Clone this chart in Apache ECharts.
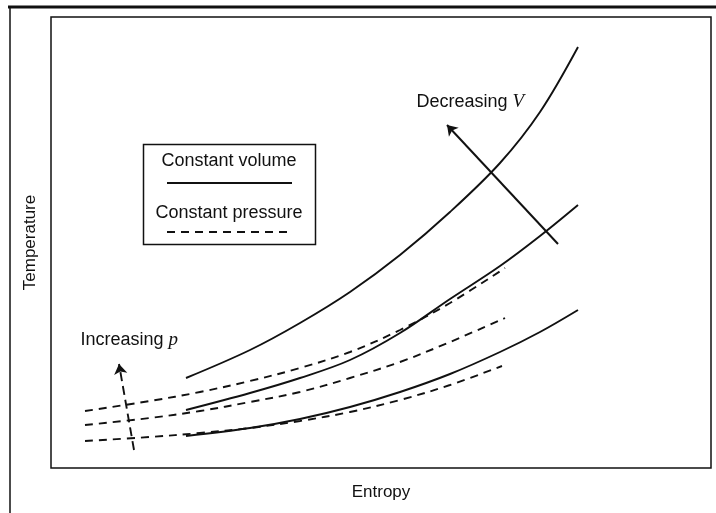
<!DOCTYPE html>
<html>
<head>
<meta charset="utf-8">
<script src="https://cdn.jsdelivr.net/npm/echarts@6/dist/echarts.min.js"></script>
<style>
html,body{margin:0;padding:0;background:#fff;}
#chart{width:716px;height:513px;}
</style>
</head>
<body>
<div id="chart"></div>
<script>
// Arbitrary units (entropy, temperature)
const xTitle = 'Entropy';
const yTitle = 'Temperature';

// Constant-volume lines (solid)
const volHigh = [[135,90],[199,118],[249,145],[299,176],[349,213],[399,256],[449,305],[489,356],[527,421]];
const volMid  = [[135,58],[199,75],[249,90],[299,108],[349,135],[399,169],[449,202],[489,232],[527,263]];
const volLow  = [[135,32],[199,40],[249,49],[299,61],[349,76],[399,94],[449,116],[489,136],[527,158]];

// Constant-pressure lines (dashed)
const presHigh = [[34,57],[99,67],[149,76],[199,87],[249,100],[299,116],[349,138],[399,165],[454,200]];
const presMid  = [[34,43],[99,50],[149,57],[199,66],[249,76],[299,90],[349,106],[399,126],[454,150]];
const presLow  = [[34,27],[99,31],[149,35],[199,40],[249,47],[299,56],[349,68],[399,83],[451,102]];

// Direction arrows (tail -> head)
const arrowV = [[507,224],[396,343]];   // decreasing V
const arrowP = [[83,18],[68,104]];      // increasing p

const labelV = 'Decreasing ';
const labelVsym = 'V';
const labelP = 'Increasing ';
const labelPsym = 'p';

const legendSolid = 'Constant volume';
const legendDashed = 'Constant pressure';

const FONT = '"Liberation Sans", Arial, sans-serif';
const INK = '#111111';

const chart = echarts.init(document.getElementById('chart'), null, {renderer:'canvas'});

function solid(data){
  return {type:'line', data:data, smooth:0.35, symbol:'none', silent:true,
    lineStyle:{color:INK, width:1.9}};
}
function dashed(data){
  return {type:'line', data:data, smooth:0.35, symbol:'none', silent:true,
    lineStyle:{color:INK, width:1.9, type:[8,6]}};
}
function arrow(data, dash){
  return {type:'lines', coordinateSystem:'cartesian2d', silent:true,
    symbol:['none','arrow'], symbolSize:[0,10],
    lineStyle:{color:INK, width:dash?1.9:2, type:dash?[9,5]:'solid', opacity:1},
    data:[{coords:data}]};
}
function noteText(x, y, main, sym){
  return {type:'scatter', symbolSize:1, silent:true, data:[[x,y]],
    itemStyle:{opacity:0},
    label:{show:true, position:'right', distance:0, opacity:1, color:INK,
      formatter:'{a|'+main+'}{b|'+sym+'}',
      rich:{a:{fontFamily:FONT, fontSize:18, color:INK, opacity:1},
            b:{fontFamily:'"Liberation Serif", serif', fontStyle:'italic', fontSize:19, color:INK, opacity:1}}}};
}

chart.setOption({
  animation:false,
  grid:{left:51, top:17, right:5, bottom:45, show:true, borderColor:INK, borderWidth:1.5, backgroundColor:'#fff'},
  xAxis:{type:'value', min:0, max:660, name:xTitle, nameLocation:'middle', nameGap:16,
    nameTextStyle:{fontFamily:FONT, fontSize:17, color:INK},
    axisLine:{show:false}, axisTick:{show:false}, axisLabel:{show:false}, splitLine:{show:false}},
  yAxis:{type:'value', min:0, max:451, name:yTitle, nameLocation:'middle', nameGap:12,
    nameTextStyle:{fontFamily:FONT, fontSize:17, color:INK},
    axisLine:{show:false}, axisTick:{show:false}, axisLabel:{show:false}, splitLine:{show:false}},
  graphic:[
    {type:'line', shape:{x1:8, y1:7, x2:716, y2:7}, style:{stroke:INK, lineWidth:3}},
    {type:'line', shape:{x1:10, y1:6, x2:10, y2:513}, style:{stroke:INK, lineWidth:1.5}},
    {type:'rect', shape:{x:143.5, y:144.5, width:172, height:100}, style:{fill:'#fff', stroke:INK, lineWidth:1.5}, z:10},
    {type:'text', x:229, y:161, z:11, style:{text:legendSolid, font:'18px '+FONT, fill:INK, textAlign:'center', textVerticalAlign:'middle'}},
    {type:'line', z:11, shape:{x1:167, y1:183, x2:292, y2:183}, style:{stroke:INK, lineWidth:2}},
    {type:'text', x:229, y:213, z:11, style:{text:legendDashed, font:'18px '+FONT, fill:INK, textAlign:'center', textVerticalAlign:'middle'}},
    {type:'line', z:11, shape:{x1:167, y1:232, x2:290, y2:232}, style:{stroke:INK, lineWidth:1.9, lineDash:[8,6]}}
  ],
  series:[
    solid(volHigh), solid(volMid), solid(volLow),
    dashed(presHigh), dashed(presMid), dashed(presLow),
    arrow(arrowV, false), arrow(arrowP, true),
    noteText(365, 366, labelV, labelVsym),
    noteText(29, 128, labelP, labelPsym)
  ]
});
</script>
</body>
</html>
